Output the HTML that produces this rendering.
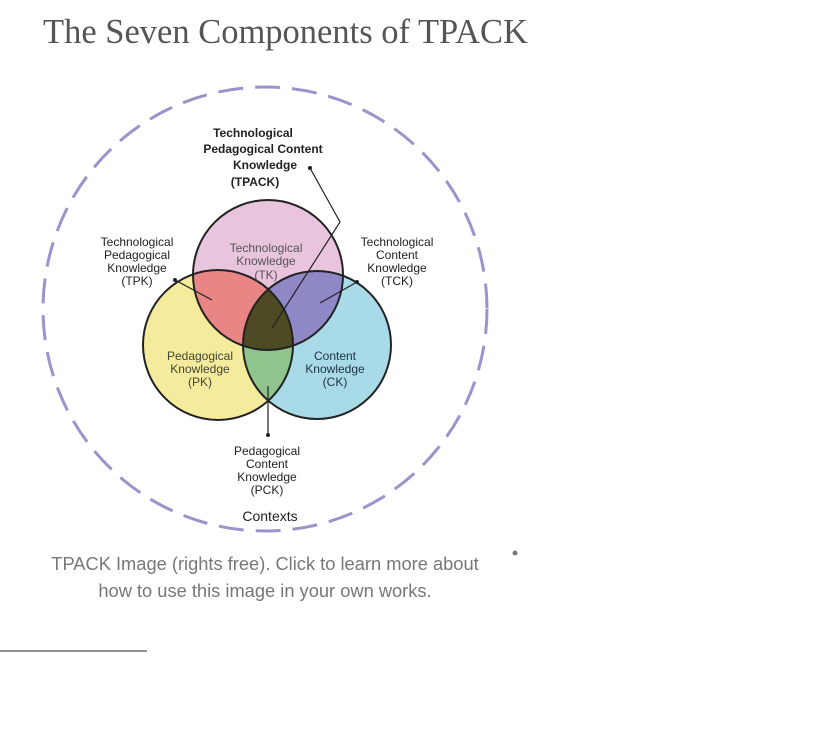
<!DOCTYPE html>
<html><head><style>
body{margin:0;width:831px;height:749px;background:#fff;overflow:hidden;position:relative;font-family:"Liberation Sans",sans-serif}
.t{position:absolute;left:43px;top:13px;font-family:"Liberation Serif",serif;font-size:34.5px;color:#555}
.cap{position:absolute;left:15px;width:500px;text-align:center;top:550px;font-size:18.3px;line-height:27px;color:#777}
</style></head><body>
<div class="t">The Seven Components of TPACK</div>
<svg width="831" height="749" style="position:absolute;left:0;top:0">
<defs>
<clipPath id="ct"><circle cx="268" cy="275" r="75"/></clipPath>
<clipPath id="cp"><circle cx="218" cy="345" r="75"/></clipPath>
<clipPath id="cc"><circle cx="317" cy="345" r="74"/></clipPath>
</defs>
<circle cx="265" cy="309" r="222" fill="none" stroke="#9a93cc" stroke-width="3" stroke-dasharray="25 12"/>
<circle cx="268" cy="275" r="75" fill="#e9c4dd"/>
<circle cx="218" cy="345" r="75" fill="#f4eb9c"/>
<circle cx="317" cy="345" r="74" fill="#a8dbe7"/>
<circle cx="218" cy="345" r="75" fill="#ea8585" clip-path="url(#ct)"/>
<circle cx="317" cy="345" r="74" fill="#8f88c7" clip-path="url(#ct)"/>
<circle cx="317" cy="345" r="74" fill="#90c48d" clip-path="url(#cp)"/>
<g clip-path="url(#ct)"><circle cx="317" cy="345" r="74" fill="#4e4b24" clip-path="url(#cp)"/></g>
<g fill="none" stroke="#222" stroke-width="2">
<circle cx="268" cy="275" r="75"/><circle cx="218" cy="345" r="75"/><circle cx="317" cy="345" r="74"/>
</g>
<g stroke="#222" stroke-width="1.2" fill="none">
<polyline points="310,168 340,222 272,328"/>
<line x1="175" y1="280" x2="212" y2="300"/>
<line x1="357" y1="282" x2="320" y2="303"/>
<line x1="268" y1="435" x2="268" y2="386"/>
</g>
<g fill="#222"><circle cx="310" cy="168" r="2"/><circle cx="175" cy="280" r="2"/><circle cx="357" cy="282" r="2"/><circle cx="268" cy="435" r="2"/><circle cx="515" cy="553" r="2.5" fill="#777"/></g>
<g font-size="12" fill="#222" text-anchor="middle">
<g font-weight="bold"><text x="253" y="137">Technological</text><text x="263" y="153">Pedagogical Content</text><text x="265" y="169">Knowledge</text><text x="255" y="186">(TPACK)</text></g>
<text x="137" y="246">Technological</text><text x="137" y="259">Pedagogical</text><text x="137" y="272">Knowledge</text><text x="137" y="285">(TPK)</text>
<text x="397" y="246">Technological</text><text x="397" y="259">Content</text><text x="397" y="272">Knowledge</text><text x="397" y="285">(TCK)</text>
<g fill="#555"><text x="266" y="252">Technological</text><text x="266" y="265">Knowledge</text><text x="266" y="279">(TK)</text></g>
<g fill="#443"><text x="200" y="360">Pedagogical</text><text x="200" y="373">Knowledge</text><text x="200" y="386">(PK)</text></g>
<g fill="#234"><text x="335" y="360">Content</text><text x="335" y="373">Knowledge</text><text x="335" y="386">(CK)</text></g>
<text x="267" y="455">Pedagogical</text><text x="267" y="468">Content</text><text x="267" y="481">Knowledge</text><text x="267" y="494">(PCK)</text>
<text x="270" y="521" font-size="14">Contexts</text>
</g>
<line x1="0" y1="651" x2="147" y2="651" stroke="#222" stroke-width="1"/>
</svg>
<div class="cap">TPACK Image (rights free). Click to learn more about<br>how to use this image in your own works.</div>
</body></html>
